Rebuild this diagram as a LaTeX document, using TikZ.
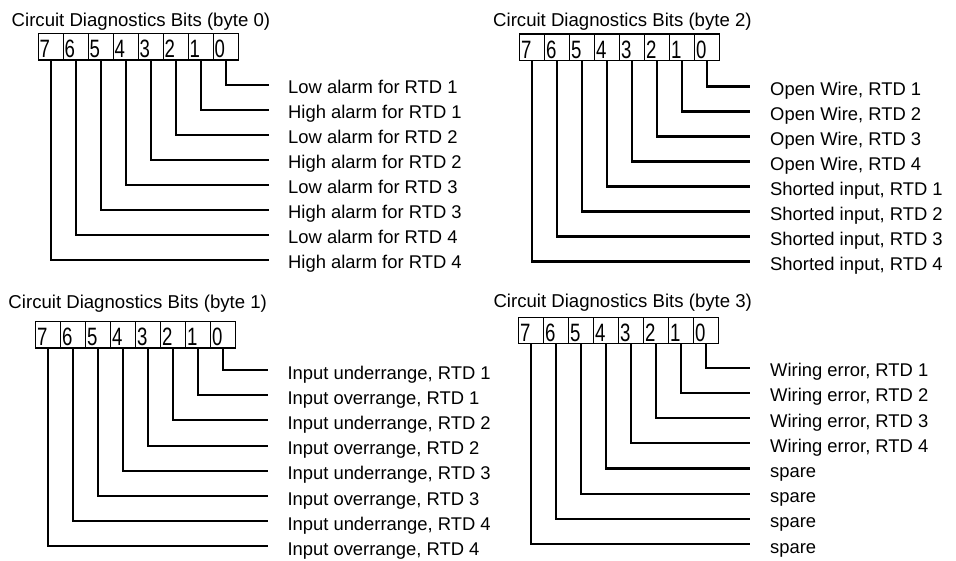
\documentclass[tikz,border=0pt]{standalone}
\usepackage{graphicx}
\usepackage{fontspec}
\setmainfont{Liberation Sans}
\usepackage{tikz}

\begin{document}
\begin{tikzpicture}[x=1pt,y=-1pt,
  headtext/.style={anchor=base west,inner sep=0pt,font=\fontsize{18.6}{22}\selectfont},
  bitcell/.style={draw,line width=1.2pt,anchor=north west,minimum width=25pt,minimum height=26.5pt,
    inner xsep=1.5pt,inner ysep=0pt,text width=22pt,align=left,text height=22pt,text depth=0pt,
    font=\fontsize{18.6}{22}\selectfont},
  bitlead/.style={line width=2.1pt},
  bitlabel/.style={anchor=base west,inner sep=0pt,font=\fontsize{18.4}{22}\selectfont}]
\useasboundingbox (0,0) rectangle (956,561);

% byte 0
\node[headtext] (t0) at (11.5,26.5) {Circuit Diagnostics Bits (byte 0)};
\foreach \b in {0,...,7}
  \node[bitcell] (c0-\b) at ({37.5+25*(7-\b)},33) {\scalebox{1}[1.35]{\b}};
\foreach \txt [count=\b from 0] in {{Low alarm for RTD 1},{High alarm for RTD 1},{Low alarm for RTD 2},
    {High alarm for RTD 2},{Low alarm for RTD 3},{High alarm for RTD 3},{Low alarm for RTD 4},{High alarm for RTD 4}} {
  \coordinate (e0-\b) at (269,{85+25*\b});
  \draw[bitlead] (c0-\b.south) |- (e0-\b);
  \node[bitlabel] (l0-\b) at ([shift={(19pt,-9pt)}]e0-\b) {\txt};
}

% byte 2
\node[headtext] (t2) at (493,26.7) {Circuit Diagnostics Bits (byte 2)};
\foreach \b in {0,...,7}
  \node[bitcell] (c2-\b) at ({519+25*(7-\b)},33.5) {\scalebox{1}[1.35]{\b}};
\foreach \txt [count=\b from 0] in {{Open Wire, RTD 1},{Open Wire, RTD 2},{Open Wire, RTD 3},{Open Wire, RTD 4},
    {Shorted input, RTD 1},{Shorted input, RTD 2},{Shorted input, RTD 3},{Shorted input, RTD 4}} {
  \coordinate (e2-\b) at (750,{86.5+25*\b});
  \draw[bitlead] (c2-\b.south) |- (e2-\b);
  \node[bitlabel] (l2-\b) at ([shift={(20pt,-9pt)}]e2-\b) {\txt};
}

% byte 1
\node[headtext] (t1) at (8.3,308.3) {Circuit Diagnostics Bits (byte 1)};
\foreach \b in {0,...,7}
  \node[bitcell] (c1-\b) at ({35+25*(7-\b)},321) {\scalebox{1}[1.35]{\b}};
\foreach \txt [count=\b from 0] in {{Input underrange, RTD 1},{Input overrange, RTD 1},{Input underrange, RTD 2},
    {Input overrange, RTD 2},{Input underrange, RTD 3},{Input overrange, RTD 3},{Input underrange, RTD 4},{Input overrange, RTD 4}} {
  \coordinate (e1-\b) at (267.7,{370+25.2*\b});
  \draw[bitlead] (c1-\b.south) |- (e1-\b);
  \node[bitlabel] (l1-\b) at ([shift={(19.6pt,-9pt)}]e1-\b) {\txt};
}

% byte 3
\node[headtext] (t3) at (493.3,307.7) {Circuit Diagnostics Bits (byte 3)};
\foreach \b in {0,...,7}
  \node[bitcell] (c3-\b) at ({518+25*(7-\b)},316.7) {\scalebox{1}[1.35]{\b}};
\foreach \txt [count=\b from 0] in {{Wiring error, RTD 1},{Wiring error, RTD 2},{Wiring error, RTD 3},{Wiring error, RTD 4},
    {spare},{spare},{spare},{spare}} {
  \coordinate (e3-\b) at (750,{367.7+25.2*\b});
  \draw[bitlead] (c3-\b.south) |- (e3-\b);
  \node[bitlabel] (l3-\b) at ([shift={(20pt,-9pt)}]e3-\b) {\txt};
}
\end{tikzpicture}
\end{document}
